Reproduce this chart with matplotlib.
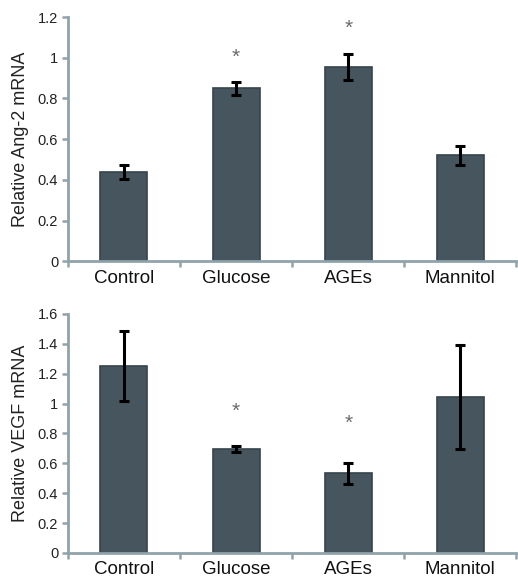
import matplotlib
matplotlib.use("Agg")
import matplotlib.pyplot as plt
import numpy as np

plt.rcParams['font.family'] = ['Liberation Sans', 'DejaVu Sans']

categories = ["Control", "Glucose", "AGEs", "Mannitol"]
ang2_values = [0.44, 0.85, 0.955, 0.52]
ang2_errors = [0.035, 0.033, 0.065, 0.045]
ang2_star_y = [None, 1.0, 1.145, None]
vegf_values = [1.25, 0.695, 0.535, 1.045]
vegf_errors = [0.235, 0.02, 0.07, 0.35]
vegf_star_y = [None, 0.945, 0.865, None]

ang2_ticks = [0, 0.2, 0.4, 0.6, 0.8, 1.0, 1.2]
ang2_ticklabels = ["0", "0.2", "0.4", "0.6", "0.8", "1", "1.2"]
vegf_ticks = [0, 0.2, 0.4, 0.6, 0.8, 1.0, 1.2, 1.4, 1.6]
vegf_ticklabels = ["0", "0.2", "0.4", "0.6", "0.8", "1", "1.2", "1.4", "1.6"]

bar_color = "#47565e"
edge_color = "#36444b"
axis_color = "#8fa3aa"
star_color = "#6b6b6b"

fig = plt.figure(figsize=(5.18, 5.77), dpi=100)
ax1 = fig.add_axes([0.131, 0.547, 0.866, 0.4235])
ax2 = fig.add_axes([0.131, 0.0416, 0.866, 0.4144])

def draw(ax, values, errors, stars, ylim, ticks, ticklabels, ylabel):
    x = np.arange(len(categories))
    ax.bar(x, values, width=0.42, color=bar_color, edgecolor=edge_color, linewidth=1.2, zorder=2)
    ax.errorbar(x, values, yerr=errors, fmt='none', ecolor='black', elinewidth=2.2,
                capsize=3.5, capthick=2.2, zorder=3)
    for xi, sy in zip(x, stars):
        if sy is not None:
            ax.text(xi, sy, "*", ha='center', va='center', fontsize=15, color=star_color)
    ax.set_xlim(-0.5, len(categories) - 0.5)
    ax.set_ylim(*ylim)
    ax.set_yticks(ticks)
    ax.set_yticklabels(ticklabels, fontsize=10.5, color="#222222")
    ax.set_xticks(x)
    ax.set_xticklabels(categories, fontsize=13.5, color="#111111")
    ax.tick_params(axis='x', length=0, pad=6)
    ax.set_xticks(np.arange(len(categories) + 1) - 0.5, minor=True)
    ax.tick_params(axis='x', which='minor', length=4, width=1.8, color=axis_color, direction='out')
    ax.tick_params(axis='y', length=4, width=1.8, color=axis_color, direction='out', pad=3)
    for s in ['top', 'right']:
        ax.spines[s].set_visible(False)
    for s in ['left', 'bottom']:
        ax.spines[s].set_color(axis_color)
        ax.spines[s].set_linewidth(2)
    ax.set_ylabel(ylabel, fontsize=13, color="#222222", labelpad=6)

draw(ax1, ang2_values, ang2_errors, ang2_star_y, (0, 1.2), ang2_ticks, ang2_ticklabels, "Relative Ang-2 mRNA")
draw(ax2, vegf_values, vegf_errors, vegf_star_y, (0, 1.6), vegf_ticks, vegf_ticklabels, "Relative VEGF mRNA")

fig.savefig("out.png", dpi=100)
